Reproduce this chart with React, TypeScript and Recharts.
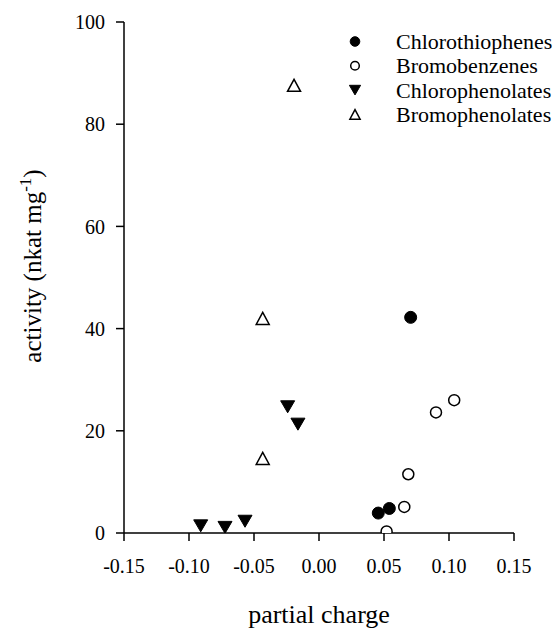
import React from "react";
import { ScatterChart, Scatter, XAxis, YAxis } from "recharts";

const seriesNames = ["Chlorothiophenes", "Bromobenzenes", "Chlorophenolates", "Bromophenolates"];

const chlorothiophenesX = [0.0456, 0.0541, 0.0705];
const chlorothiophenesY = [3.9, 4.8, 42.2];

const bromobenzenesX = [0.052, 0.0656, 0.0687, 0.09, 0.104];
const bromobenzenesY = [0.3, 5.1, 11.5, 23.6, 26.0];

const chlorophenolatesX = [-0.091, -0.0723, -0.0569, -0.0241, -0.0162];
const chlorophenolatesY = [1.4, 1.1, 2.3, 24.7, 21.3];

const bromophenolatesX = [-0.0433, -0.0433, -0.0192];
const bromophenolatesY = [14.6, 42.0, 87.6];

const xTicks = [-0.15, -0.1, -0.05, 0, 0.05, 0.1, 0.15];
const yTicks = [0, 20, 40, 60, 80, 100];

const FONT = "Liberation Serif, Times New Roman, serif";

const toData = (xs: number[], ys: number[]) => xs.map((x, i) => ({ x, y: ys[i] }));

type MarkerKind = "filledCircle" | "openCircle" | "filledDown" | "openUp";
const markerKinds: MarkerKind[] = ["filledCircle", "openCircle", "filledDown", "openUp"];

function drawMarker(kind: MarkerKind, cx: number, cy: number, s: number) {
  const r = 6 * s;
  const hw = 7 * s;
  const hh = 6 * s;
  switch (kind) {
    case "filledCircle":
      return <circle cx={cx} cy={cy} r={r} fill="#000" stroke="#000" strokeWidth={1} />;
    case "openCircle":
      return <circle cx={cx} cy={cy} r={r - 0.5} fill="#fff" stroke="#000" strokeWidth={1.5} />;
    case "filledDown":
      return (
        <polygon
          points={`${cx - hw},${cy - hh} ${cx + hw},${cy - hh} ${cx},${cy + hh}`}
          fill="#000"
          stroke="#000"
          strokeWidth={1}
        />
      );
    case "openUp":
      return (
        <polygon
          points={`${cx - hw + 0.5},${cy + hh} ${cx + hw - 0.5},${cy + hh} ${cx},${cy - hh}`}
          fill="#fff"
          stroke="#000"
          strokeWidth={1.5}
          strokeLinejoin="miter"
        />
      );
  }
}

const shapeFor = (kind: MarkerKind) => (props: any) => (
  <g>{drawMarker(kind, props.cx, props.cy, 1)}</g>
);

const SerifTick = (props: any) => {
  const { x, y, payload, textAnchor, orientation } = props;
  const label = orientation === "bottom" ? Number(payload.value).toFixed(2) : String(payload.value);
  const dy = orientation === "bottom" ? "0.71em" : "0.355em";
  return (
    <text x={x} y={y} dy={dy} textAnchor={textAnchor} fontFamily={FONT} fontSize={20} fill="#000">
      {label}
    </text>
  );
};

const YLabel = () => (
  <text
    transform="translate(41,266) rotate(-90)"
    textAnchor="middle"
    fontFamily={FONT}
    fontSize={25}
    fill="#000"
  >
    activity (nkat mg
    <tspan dy={-10} fontSize={17}>-1</tspan>
    <tspan dy={10}>)</tspan>
  </text>
);

const XLabel = () => (
  <text x={319} y={623} textAnchor="middle" fontFamily={FONT} fontSize={26} fill="#000">
    partial charge
  </text>
);

export default function App() {
  const series = [
    toData(chlorothiophenesX, chlorothiophenesY),
    toData(bromobenzenesX, bromobenzenesY),
    toData(chlorophenolatesX, chlorophenolatesY),
    toData(bromophenolatesX, bromophenolatesY),
  ];
  return (
    <div
      style={{
        position: "absolute",
        left: 0,
        top: 0,
        width: 559,
        height: 628,
        background: "#fff",
        fontFamily: FONT,
      }}
    >
      <ScatterChart
        width={559}
        height={628}
        margin={{ top: 22, right: 45, bottom: 35, left: 64 }}
        style={{ fontFamily: FONT }}
      >
        <XAxis
          type="number"
          dataKey="x"
          domain={[-0.15, 0.15]}
          ticks={xTicks}
          allowDataOverflow
          height={60}
          tickSize={8}
          tickMargin={18}
          axisLine={{ stroke: "#000", strokeWidth: 1.5 }}
          tickLine={{ stroke: "#000", strokeWidth: 1.5 }}
          tick={<SerifTick />}
          label={{ content: () => <XLabel /> }}
        />
        <YAxis
          type="number"
          dataKey="y"
          domain={[0, 100]}
          ticks={yTicks}
          allowDataOverflow
          width={60}
          tickSize={8}
          tickMargin={11}
          axisLine={{ stroke: "#000", strokeWidth: 1.5 }}
          tickLine={{ stroke: "#000", strokeWidth: 1.5 }}
          tick={<SerifTick />}
          label={{ content: () => <YLabel /> }}
        />
        {series.map((d, i) => (
          <Scatter
            key={seriesNames[i]}
            name={seriesNames[i]}
            data={d}
            shape={shapeFor(markerKinds[i])}
            isAnimationActive={false}
          />
        ))}
      </ScatterChart>
      <svg
        width={559}
        height={140}
        style={{ position: "absolute", left: 0, top: 0, pointerEvents: "none" }}
      >
        {seriesNames.map((name, i) => (
          <g key={name}>
            {drawMarker(markerKinds[i], 355, 41.5 + i * 24.3, 0.8)}
            <text x={396} y={49.3 + i * 24.1} fontFamily={FONT} fontSize={22} fill="#000">
              {name}
            </text>
          </g>
        ))}
      </svg>
    </div>
  );
}
